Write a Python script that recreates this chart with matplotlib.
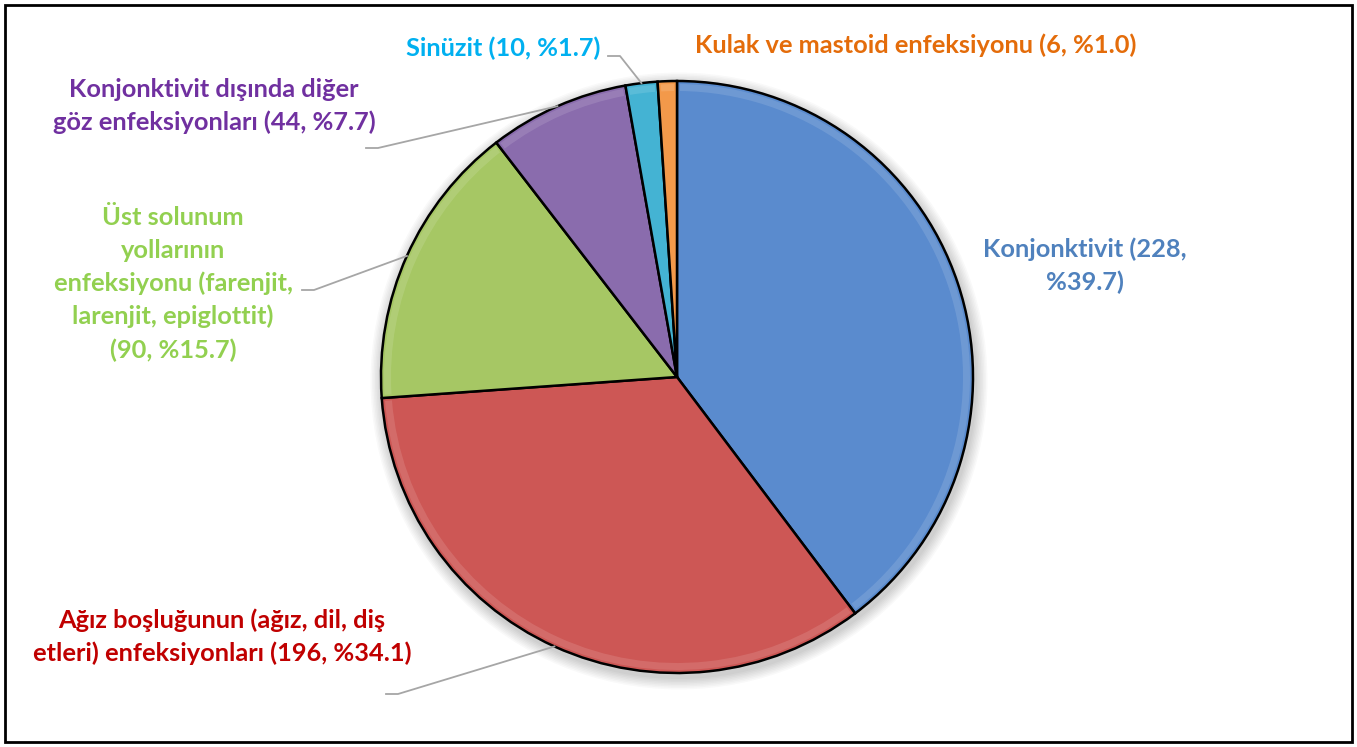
import numpy as np
import matplotlib
matplotlib.use('Agg')
import matplotlib.pyplot as plt
from matplotlib.patches import Rectangle, Circle, Wedge

plt.rcParams['font.family'] = ['Lato', 'DejaVu Sans']

# data
labels = ['Konjonktivit (228,\n%39.7)',
          'Ağız boşluğunun (ağız, dil, diş\netleri) enfeksiyonları (196, %34.1)',
          'Üst solunum\nyollarının\nenfeksiyonu (farenjit,\nlarenjit, epiglottit)\n(90, %15.7)',
          'Konjonktivit dışında diğer\ngöz enfeksiyonları (44, %7.7)',
          'Sinüzit (10, %1.7)',
          'Kulak ve mastoid enfeksiyonu (6, %1.0)']
values = [228, 196, 90, 44, 10, 6]
slice_colors = ['#5A8BCE', '#CD5755', '#A6C764', '#8A6CAD', '#44B3D3', '#F3994A']
text_colors = ['#4F81BD', '#C00000', '#92D050', '#7030A0', '#00B0F0', '#E46C0A']

W, H = 1357, 747
def Y(y):
    return H - y

fig = plt.figure(figsize=(W / 100, H / 100), dpi=100)
ax = fig.add_axes([0, 0, 1, 1])

cx, cy, R = 677, Y(377), 296

# soft shadow
for i in range(8):
    ax.add_patch(Circle((cx + 2, cy - 4), R + 2 + i * 1.5, color='black',
                        alpha=0.025, lw=0, zorder=0))

wedges, _ = ax.pie(values, colors=slice_colors, startangle=90, counterclock=False,
                   center=(cx, cy), radius=R,
                   wedgeprops=dict(edgecolor='black', linewidth=1.8))
for w in wedges:
    w.set_zorder(2)
    # faint bevel highlight along the rim
    ax.add_patch(Wedge((cx, cy), R - 3, w.theta1 + 0.6, w.theta2 - 0.6, width=7,
                       color='white', alpha=0.12, lw=0, zorder=2.5))

# label layout: (x center, y center, leader start x, leader start y)
layout = [
    (1085, 266, None, None),
    (222, 637, 386, 694),
    (173, 284, 302, 290),
    (214, 106, 366, 148),
    (503, 48, 608, 56),
    (916, 45, None, None),
]

for w, lab, tc, (lx, ly, sx, sy) in zip(wedges, labels, text_colors, layout):
    ax.text(lx, Y(ly), lab, color=tc, fontsize=18.3, fontweight='bold',
            ha='center', va='center', linespacing=1.5, zorder=5)
    if sx is not None:
        mid = np.deg2rad((w.theta1 + w.theta2) / 2)
        ex = cx + R * np.cos(mid)
        ey = cy + R * np.sin(mid)
        ax.plot([sx, sx + 12, ex], [Y(sy), Y(sy), ey], color='#A6A6A6',
                lw=1.3, zorder=3)

ax.set_xlim(0, W)
ax.set_ylim(0, H)
ax.set_aspect('equal')
ax.axis('off')

fig.patches.append(Rectangle((5 / W, 5 / H), 1 - 10 / W, 1 - 10 / H,
                             transform=fig.transFigure, fill=False,
                             edgecolor='black', lw=2))

fig.savefig('out.png', dpi=100)
